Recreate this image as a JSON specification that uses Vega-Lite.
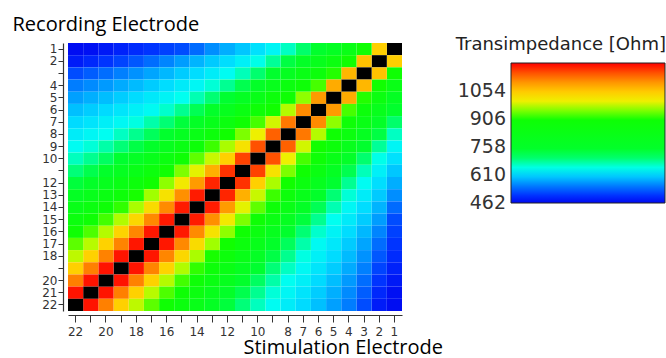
{
"$schema": "https://vega.github.io/schema/vega-lite/v6.json",
"width": 334, "height": 268,
"autosize": {"type": "none"},
"padding": {"left": 68, "top": 43, "right": 264, "bottom": 47},
"background": "white",
"config": {"view": {"stroke": null}},
"data": {"values": [
{"r":1,"s":1,"v":1500},{"r":1,"s":2,"v":1046},{"r":1,"s":3,"v":905},{"r":1,"s":4,"v":832},{"r":1,"s":5,"v":776},{"r":1,"s":6,"v":739},{"r":1,"s":7,"v":701},{"r":1,"s":8,"v":664},{"r":1,"s":9,"v":636},{"r":1,"s":10,"v":619},{"r":1,"s":11,"v":601},{"r":1,"s":12,"v":584},{"r":1,"s":13,"v":564},{"r":1,"s":14,"v":542},{"r":1,"s":15,"v":520},{"r":1,"s":16,"v":512},{"r":1,"s":17,"v":503},{"r":1,"s":18,"v":495},{"r":1,"s":19,"v":487},{"r":1,"s":20,"v":478},{"r":1,"s":21,"v":470},{"r":1,"s":22,"v":467},
{"r":2,"s":1,"v":1046},{"r":2,"s":2,"v":1500},{"r":2,"s":3,"v":1058},{"r":2,"s":4,"v":915},{"r":2,"s":5,"v":855},{"r":2,"s":6,"v":808},{"r":2,"s":7,"v":762},{"r":2,"s":8,"v":717},{"r":2,"s":9,"v":682},{"r":2,"s":10,"v":648},{"r":2,"s":11,"v":632},{"r":2,"s":12,"v":617},{"r":2,"s":13,"v":603},{"r":2,"s":14,"v":588},{"r":2,"s":15,"v":573},{"r":2,"s":16,"v":558},{"r":2,"s":17,"v":543},{"r":2,"s":18,"v":528},{"r":2,"s":19,"v":514},{"r":2,"s":20,"v":503},{"r":2,"s":21,"v":492},{"r":2,"s":22,"v":481},
{"r":3,"s":1,"v":905},{"r":3,"s":2,"v":1058},{"r":3,"s":3,"v":1500},{"r":3,"s":4,"v":1068},{"r":3,"s":5,"v":925},{"r":3,"s":6,"v":875},{"r":3,"s":7,"v":836},{"r":3,"s":8,"v":786},{"r":3,"s":9,"v":735},{"r":3,"s":10,"v":699},{"r":3,"s":11,"v":668},{"r":3,"s":12,"v":642},{"r":3,"s":13,"v":629},{"r":3,"s":14,"v":616},{"r":3,"s":15,"v":604},{"r":3,"s":16,"v":591},{"r":3,"s":17,"v":578},{"r":3,"s":18,"v":566},{"r":3,"s":19,"v":555},{"r":3,"s":20,"v":543},{"r":3,"s":21,"v":532},{"r":3,"s":22,"v":520},
{"r":4,"s":1,"v":832},{"r":4,"s":2,"v":915},{"r":4,"s":3,"v":1068},{"r":4,"s":4,"v":1500},{"r":4,"s":5,"v":1080},{"r":4,"s":6,"v":935},{"r":4,"s":7,"v":890},{"r":4,"s":8,"v":858},{"r":4,"s":9,"v":807},{"r":4,"s":10,"v":756},{"r":4,"s":11,"v":712},{"r":4,"s":12,"v":684},{"r":4,"s":13,"v":656},{"r":4,"s":14,"v":638},{"r":4,"s":15,"v":627},{"r":4,"s":16,"v":616},{"r":4,"s":17,"v":604},{"r":4,"s":18,"v":593},{"r":4,"s":19,"v":582},{"r":4,"s":20,"v":571},{"r":4,"s":21,"v":562},{"r":4,"s":22,"v":553},
{"r":5,"s":1,"v":776},{"r":5,"s":2,"v":855},{"r":5,"s":3,"v":925},{"r":5,"s":4,"v":1080},{"r":5,"s":5,"v":1500},{"r":5,"s":6,"v":1095},{"r":5,"s":7,"v":955},{"r":5,"s":8,"v":905},{"r":5,"s":9,"v":877},{"r":5,"s":10,"v":826},{"r":5,"s":11,"v":776},{"r":5,"s":12,"v":725},{"r":5,"s":13,"v":697},{"r":5,"s":14,"v":671},{"r":5,"s":15,"v":645},{"r":5,"s":16,"v":635},{"r":5,"s":17,"v":625},{"r":5,"s":18,"v":615},{"r":5,"s":19,"v":605},{"r":5,"s":20,"v":595},{"r":5,"s":21,"v":585},{"r":5,"s":22,"v":575},
{"r":6,"s":1,"v":739},{"r":6,"s":2,"v":808},{"r":6,"s":3,"v":875},{"r":6,"s":4,"v":935},{"r":6,"s":5,"v":1095},{"r":6,"s":6,"v":1500},{"r":6,"s":7,"v":1110},{"r":6,"s":8,"v":970},{"r":6,"s":9,"v":920},{"r":6,"s":10,"v":893},{"r":6,"s":11,"v":845},{"r":6,"s":12,"v":797},{"r":6,"s":13,"v":749},{"r":6,"s":14,"v":710},{"r":6,"s":15,"v":685},{"r":6,"s":16,"v":660},{"r":6,"s":17,"v":641},{"r":6,"s":18,"v":632},{"r":6,"s":19,"v":623},{"r":6,"s":20,"v":614},{"r":6,"s":21,"v":605},{"r":6,"s":22,"v":596},
{"r":7,"s":1,"v":701},{"r":7,"s":2,"v":762},{"r":7,"s":3,"v":836},{"r":7,"s":4,"v":890},{"r":7,"s":5,"v":955},{"r":7,"s":6,"v":1110},{"r":7,"s":7,"v":1500},{"r":7,"s":8,"v":1125},{"r":7,"s":9,"v":985},{"r":7,"s":10,"v":935},{"r":7,"s":11,"v":907},{"r":7,"s":12,"v":860},{"r":7,"s":13,"v":814},{"r":7,"s":14,"v":767},{"r":7,"s":15,"v":720},{"r":7,"s":16,"v":697},{"r":7,"s":17,"v":674},{"r":7,"s":18,"v":651},{"r":7,"s":19,"v":639},{"r":7,"s":20,"v":631},{"r":7,"s":21,"v":622},{"r":7,"s":22,"v":614},
{"r":8,"s":1,"v":664},{"r":8,"s":2,"v":717},{"r":8,"s":3,"v":786},{"r":8,"s":4,"v":858},{"r":8,"s":5,"v":905},{"r":8,"s":6,"v":970},{"r":8,"s":7,"v":1125},{"r":8,"s":8,"v":1500},{"r":8,"s":9,"v":1140},{"r":8,"s":10,"v":1000},{"r":8,"s":11,"v":950},{"r":8,"s":12,"v":920},{"r":8,"s":13,"v":875},{"r":8,"s":14,"v":829},{"r":8,"s":15,"v":784},{"r":8,"s":16,"v":738},{"r":8,"s":17,"v":707},{"r":8,"s":18,"v":686},{"r":8,"s":19,"v":664},{"r":8,"s":20,"v":644},{"r":8,"s":21,"v":637},{"r":8,"s":22,"v":629},
{"r":9,"s":1,"v":636},{"r":9,"s":2,"v":682},{"r":9,"s":3,"v":735},{"r":9,"s":4,"v":807},{"r":9,"s":5,"v":877},{"r":9,"s":6,"v":920},{"r":9,"s":7,"v":985},{"r":9,"s":8,"v":1140},{"r":9,"s":9,"v":1500},{"r":9,"s":10,"v":1150},{"r":9,"s":11,"v":1020},{"r":9,"s":12,"v":965},{"r":9,"s":13,"v":932},{"r":9,"s":14,"v":888},{"r":9,"s":15,"v":844},{"r":9,"s":16,"v":800},{"r":9,"s":17,"v":755},{"r":9,"s":18,"v":716},{"r":9,"s":19,"v":696},{"r":9,"s":20,"v":675},{"r":9,"s":21,"v":655},{"r":9,"s":22,"v":642},
{"r":10,"s":1,"v":619},{"r":10,"s":2,"v":648},{"r":10,"s":3,"v":699},{"r":10,"s":4,"v":756},{"r":10,"s":5,"v":826},{"r":10,"s":6,"v":893},{"r":10,"s":7,"v":935},{"r":10,"s":8,"v":1000},{"r":10,"s":9,"v":1150},{"r":10,"s":10,"v":1500},{"r":10,"s":11,"v":1160},{"r":10,"s":12,"v":1045},{"r":10,"s":13,"v":980},{"r":10,"s":14,"v":942},{"r":10,"s":15,"v":899},{"r":10,"s":16,"v":857},{"r":10,"s":17,"v":814},{"r":10,"s":18,"v":771},{"r":10,"s":19,"v":729},{"r":10,"s":20,"v":705},{"r":10,"s":21,"v":685},{"r":10,"s":22,"v":666},
{"r":11,"s":1,"v":601},{"r":11,"s":2,"v":632},{"r":11,"s":3,"v":668},{"r":11,"s":4,"v":712},{"r":11,"s":5,"v":776},{"r":11,"s":6,"v":845},{"r":11,"s":7,"v":907},{"r":11,"s":8,"v":950},{"r":11,"s":9,"v":1020},{"r":11,"s":10,"v":1160},{"r":11,"s":11,"v":1500},{"r":11,"s":12,"v":1170},{"r":11,"s":13,"v":1075},{"r":11,"s":14,"v":995},{"r":11,"s":15,"v":950},{"r":11,"s":16,"v":909},{"r":11,"s":17,"v":868},{"r":11,"s":18,"v":827},{"r":11,"s":19,"v":786},{"r":11,"s":20,"v":745},{"r":11,"s":21,"v":713},{"r":11,"s":22,"v":695},
{"r":12,"s":1,"v":584},{"r":12,"s":2,"v":617},{"r":12,"s":3,"v":642},{"r":12,"s":4,"v":684},{"r":12,"s":5,"v":725},{"r":12,"s":6,"v":797},{"r":12,"s":7,"v":860},{"r":12,"s":8,"v":920},{"r":12,"s":9,"v":965},{"r":12,"s":10,"v":1045},{"r":12,"s":11,"v":1170},{"r":12,"s":12,"v":1500},{"r":12,"s":13,"v":1178},{"r":12,"s":14,"v":1095},{"r":12,"s":15,"v":1010},{"r":12,"s":16,"v":955},{"r":12,"s":17,"v":916},{"r":12,"s":18,"v":877},{"r":12,"s":19,"v":838},{"r":12,"s":20,"v":798},{"r":12,"s":21,"v":759},{"r":12,"s":22,"v":720},
{"r":13,"s":1,"v":564},{"r":13,"s":2,"v":603},{"r":13,"s":3,"v":629},{"r":13,"s":4,"v":656},{"r":13,"s":5,"v":697},{"r":13,"s":6,"v":749},{"r":13,"s":7,"v":814},{"r":13,"s":8,"v":875},{"r":13,"s":9,"v":932},{"r":13,"s":10,"v":980},{"r":13,"s":11,"v":1075},{"r":13,"s":12,"v":1178},{"r":13,"s":13,"v":1500},{"r":13,"s":14,"v":1185},{"r":13,"s":15,"v":1105},{"r":13,"s":16,"v":1020},{"r":13,"s":17,"v":960},{"r":13,"s":18,"v":922},{"r":13,"s":19,"v":885},{"r":13,"s":20,"v":847},{"r":13,"s":21,"v":810},{"r":13,"s":22,"v":772},
{"r":14,"s":1,"v":542},{"r":14,"s":2,"v":588},{"r":14,"s":3,"v":616},{"r":14,"s":4,"v":638},{"r":14,"s":5,"v":671},{"r":14,"s":6,"v":710},{"r":14,"s":7,"v":767},{"r":14,"s":8,"v":829},{"r":14,"s":9,"v":888},{"r":14,"s":10,"v":942},{"r":14,"s":11,"v":995},{"r":14,"s":12,"v":1095},{"r":14,"s":13,"v":1185},{"r":14,"s":14,"v":1500},{"r":14,"s":15,"v":1185},{"r":14,"s":16,"v":1110},{"r":14,"s":17,"v":1030},{"r":14,"s":18,"v":965},{"r":14,"s":19,"v":929},{"r":14,"s":20,"v":893},{"r":14,"s":21,"v":857},{"r":14,"s":22,"v":821},
{"r":15,"s":1,"v":520},{"r":15,"s":2,"v":573},{"r":15,"s":3,"v":604},{"r":15,"s":4,"v":627},{"r":15,"s":5,"v":645},{"r":15,"s":6,"v":685},{"r":15,"s":7,"v":720},{"r":15,"s":8,"v":784},{"r":15,"s":9,"v":844},{"r":15,"s":10,"v":899},{"r":15,"s":11,"v":950},{"r":15,"s":12,"v":1010},{"r":15,"s":13,"v":1105},{"r":15,"s":14,"v":1185},{"r":15,"s":15,"v":1500},{"r":15,"s":16,"v":1186},{"r":15,"s":17,"v":1112},{"r":15,"s":18,"v":1035},{"r":15,"s":19,"v":968},{"r":15,"s":20,"v":934},{"r":15,"s":21,"v":899},{"r":15,"s":22,"v":865},
{"r":16,"s":1,"v":512},{"r":16,"s":2,"v":558},{"r":16,"s":3,"v":591},{"r":16,"s":4,"v":616},{"r":16,"s":5,"v":635},{"r":16,"s":6,"v":660},{"r":16,"s":7,"v":697},{"r":16,"s":8,"v":738},{"r":16,"s":9,"v":800},{"r":16,"s":10,"v":857},{"r":16,"s":11,"v":909},{"r":16,"s":12,"v":955},{"r":16,"s":13,"v":1020},{"r":16,"s":14,"v":1110},{"r":16,"s":15,"v":1186},{"r":16,"s":16,"v":1500},{"r":16,"s":17,"v":1187},{"r":16,"s":18,"v":1114},{"r":16,"s":19,"v":1040},{"r":16,"s":20,"v":970},{"r":16,"s":21,"v":937},{"r":16,"s":22,"v":904},
{"r":17,"s":1,"v":503},{"r":17,"s":2,"v":543},{"r":17,"s":3,"v":578},{"r":17,"s":4,"v":604},{"r":17,"s":5,"v":625},{"r":17,"s":6,"v":641},{"r":17,"s":7,"v":674},{"r":17,"s":8,"v":707},{"r":17,"s":9,"v":755},{"r":17,"s":10,"v":814},{"r":17,"s":11,"v":868},{"r":17,"s":12,"v":916},{"r":17,"s":13,"v":960},{"r":17,"s":14,"v":1030},{"r":17,"s":15,"v":1112},{"r":17,"s":16,"v":1187},{"r":17,"s":17,"v":1500},{"r":17,"s":18,"v":1188},{"r":17,"s":19,"v":1116},{"r":17,"s":20,"v":1042},{"r":17,"s":21,"v":972},{"r":17,"s":22,"v":941},
{"r":18,"s":1,"v":495},{"r":18,"s":2,"v":528},{"r":18,"s":3,"v":566},{"r":18,"s":4,"v":593},{"r":18,"s":5,"v":615},{"r":18,"s":6,"v":632},{"r":18,"s":7,"v":651},{"r":18,"s":8,"v":686},{"r":18,"s":9,"v":716},{"r":18,"s":10,"v":771},{"r":18,"s":11,"v":827},{"r":18,"s":12,"v":877},{"r":18,"s":13,"v":922},{"r":18,"s":14,"v":965},{"r":18,"s":15,"v":1035},{"r":18,"s":16,"v":1114},{"r":18,"s":17,"v":1188},{"r":18,"s":18,"v":1500},{"r":18,"s":19,"v":1189},{"r":18,"s":20,"v":1118},{"r":18,"s":21,"v":1044},{"r":18,"s":22,"v":975},
{"r":19,"s":1,"v":487},{"r":19,"s":2,"v":514},{"r":19,"s":3,"v":555},{"r":19,"s":4,"v":582},{"r":19,"s":5,"v":605},{"r":19,"s":6,"v":623},{"r":19,"s":7,"v":639},{"r":19,"s":8,"v":664},{"r":19,"s":9,"v":696},{"r":19,"s":10,"v":729},{"r":19,"s":11,"v":786},{"r":19,"s":12,"v":838},{"r":19,"s":13,"v":885},{"r":19,"s":14,"v":929},{"r":19,"s":15,"v":968},{"r":19,"s":16,"v":1040},{"r":19,"s":17,"v":1116},{"r":19,"s":18,"v":1189},{"r":19,"s":19,"v":1500},{"r":19,"s":20,"v":1190},{"r":19,"s":21,"v":1120},{"r":19,"s":22,"v":1045},
{"r":20,"s":1,"v":478},{"r":20,"s":2,"v":503},{"r":20,"s":3,"v":543},{"r":20,"s":4,"v":571},{"r":20,"s":5,"v":595},{"r":20,"s":6,"v":614},{"r":20,"s":7,"v":631},{"r":20,"s":8,"v":644},{"r":20,"s":9,"v":675},{"r":20,"s":10,"v":705},{"r":20,"s":11,"v":745},{"r":20,"s":12,"v":798},{"r":20,"s":13,"v":847},{"r":20,"s":14,"v":893},{"r":20,"s":15,"v":934},{"r":20,"s":16,"v":970},{"r":20,"s":17,"v":1042},{"r":20,"s":18,"v":1118},{"r":20,"s":19,"v":1190},{"r":20,"s":20,"v":1500},{"r":20,"s":21,"v":1190},{"r":20,"s":22,"v":1120},
{"r":21,"s":1,"v":470},{"r":21,"s":2,"v":492},{"r":21,"s":3,"v":532},{"r":21,"s":4,"v":562},{"r":21,"s":5,"v":585},{"r":21,"s":6,"v":605},{"r":21,"s":7,"v":622},{"r":21,"s":8,"v":637},{"r":21,"s":9,"v":655},{"r":21,"s":10,"v":685},{"r":21,"s":11,"v":713},{"r":21,"s":12,"v":759},{"r":21,"s":13,"v":810},{"r":21,"s":14,"v":857},{"r":21,"s":15,"v":899},{"r":21,"s":16,"v":937},{"r":21,"s":17,"v":972},{"r":21,"s":18,"v":1044},{"r":21,"s":19,"v":1120},{"r":21,"s":20,"v":1190},{"r":21,"s":21,"v":1500},{"r":21,"s":22,"v":1190},
{"r":22,"s":1,"v":467},{"r":22,"s":2,"v":481},{"r":22,"s":3,"v":520},{"r":22,"s":4,"v":553},{"r":22,"s":5,"v":575},{"r":22,"s":6,"v":596},{"r":22,"s":7,"v":614},{"r":22,"s":8,"v":629},{"r":22,"s":9,"v":642},{"r":22,"s":10,"v":666},{"r":22,"s":11,"v":695},{"r":22,"s":12,"v":720},{"r":22,"s":13,"v":772},{"r":22,"s":14,"v":821},{"r":22,"s":15,"v":865},{"r":22,"s":16,"v":904},{"r":22,"s":17,"v":941},{"r":22,"s":18,"v":975},{"r":22,"s":19,"v":1045},{"r":22,"s":20,"v":1120},{"r":22,"s":21,"v":1190},{"r":22,"s":22,"v":1500}
]},
"mark": {"type": "rect"},
"encoding": {
  "x": {"field": "s", "type": "ordinal", "sort": "descending",
    "scale": {"paddingInner": 0, "paddingOuter": 0},
    "axis": {"title": "Stimulation Electrode", "orient": "bottom", "offset": 4, "tickSize": 7, "labelPadding": 4, "labelAngle": 0,
      "labelFont": "DejaVu Sans", "labelFontSize": 12, "labelColor": "#333333", "labelOverlap": false,
      "labelExpr": "(datum.value >= 9 && datum.value % 2 == 1) ? '' : datum.label",
      "domainColor": "#333333", "domainWidth": 1.2, "tickColor": "#333333", "tickWidth": 1,
      "titleFont": "Open Sans", "titleFontSize": 20, "titleFontWeight": "normal", "titleColor": "#000000",
      "titleX": 175, "titleY": 38, "titleAlign": "left", "titleBaseline": "alphabetic"}},
  "y": {"field": "r", "type": "ordinal", "sort": "ascending",
    "scale": {"paddingInner": 0, "paddingOuter": 0},
    "axis": {"title": "Recording Electrode", "offset": 5, "tickSize": 5, "labelPadding": 1,
      "labelFont": "DejaVu Sans", "labelFontSize": 12, "labelColor": "#333333", "labelOverlap": false,
      "labelExpr": "indexof([3, 11, 19], datum.value) >= 0 ? '' : datum.label",
      "domainColor": "#333333", "domainWidth": 1.2, "tickColor": "#333333", "tickWidth": 1,
      "titleFont": "Open Sans", "titleFontSize": 20, "titleFontWeight": "normal", "titleColor": "#000000",
      "titleAngle": 0, "titleX": -51, "titleY": -13, "titleAlign": "left", "titleBaseline": "alphabetic"}},
  "color": {
    "condition": {"test": "datum.s === datum.r", "value": "#000000"},
    "field": "v", "type": "quantitative",
    "scale": {"domain": [462, 500, 540, 580, 615, 645, 685, 725, 920, 960, 1000, 1045, 1120, 1202],
      "range": ["#0008f0", "#0030ff", "#0068ff", "#00a8ff", "#00dcff", "#00fff0", "#00ff90", "#00ff30", "#10ff00", "#a0ff00", "#eef000", "#ffd000", "#ff8000", "#ff0000"],
      "interpolate": "rgb", "clamp": true},
    "legend": {"orient": "none", "legendX": 388, "legendY": -7, "direction": "vertical", "padding": 0,
      "title": "Transimpedance [Ohm]", "titleFont": "DejaVu Sans", "titleFontSize": 18, "titleFontWeight": "normal", "titleColor": "#222222",
      "titleAnchor": "end", "titleAlign": "right", "titlePadding": 9, "titleLimit": 400,
      "gradientLength": 140, "gradientThickness": 154, "gradientStrokeWidth": 1, "gradientStrokeColor": "#222222",
      "values": [462, 610, 758, 906, 1054], "format": "d",
      "labelOffset": -159,
      "labelFont": "DejaVu Sans", "labelFontSize": 19, "labelColor": "#333333", "labelOverlap": false,
      "encode": {"labels": {"update": {"align": {"value": "right"}, "baseline": {"value": "middle"}}}}}
  }
}
}
